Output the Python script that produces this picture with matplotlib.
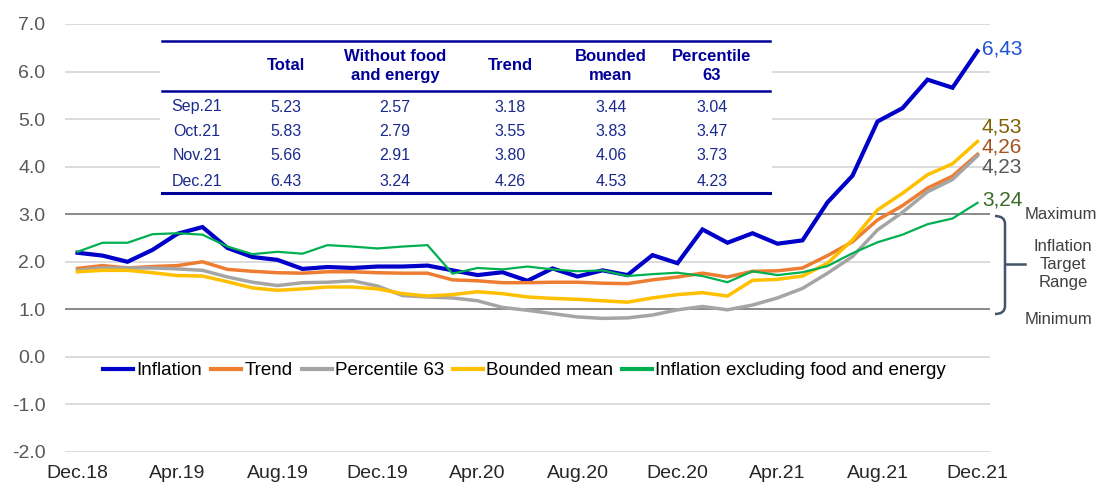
import numpy as np
import matplotlib
matplotlib.use("Agg")
import matplotlib.pyplot as plt
from matplotlib.lines import Line2D
from matplotlib.patches import Rectangle, PathPatch
from matplotlib.path import Path

plt.rcParams['font.family'] = ['Liberation Sans', 'DejaVu Sans']

# monthly data Dec.18 .. Dec.21
tick_labels = ["Dec.18", "Apr.19", "Aug.19", "Dec.19", "Apr.20",
               "Aug.20", "Dec.20", "Apr.21", "Aug.21", "Dec.21"]

inflation = [2.19, 2.13, 2.00, 2.25, 2.59, 2.73, 2.29, 2.10, 2.04, 1.85, 1.89, 1.87,
             1.90, 1.90, 1.92, 1.82, 1.72, 1.78, 1.60, 1.86, 1.69, 1.82, 1.72, 2.14,
             1.97, 2.68, 2.40, 2.60, 2.38, 2.45, 3.25, 3.81, 4.95, 5.23, 5.83, 5.66, 6.43]
trend = [1.86, 1.92, 1.87, 1.90, 1.92, 2.00, 1.84, 1.80, 1.77, 1.76, 1.79, 1.79,
         1.77, 1.76, 1.76, 1.62, 1.60, 1.56, 1.56, 1.57, 1.57, 1.55, 1.54, 1.62,
         1.68, 1.76, 1.68, 1.80, 1.81, 1.87, 2.13, 2.42, 2.88, 3.18, 3.55, 3.80, 4.26]
p63 = [1.82, 1.87, 1.87, 1.87, 1.85, 1.82, 1.68, 1.57, 1.50, 1.56, 1.57, 1.60,
       1.49, 1.29, 1.26, 1.24, 1.18, 1.04, 0.98, 0.91, 0.84, 0.81, 0.82, 0.88,
       0.99, 1.06, 0.99, 1.09, 1.24, 1.44, 1.76, 2.11, 2.67, 3.04, 3.47, 3.73, 4.23]
bounded = [1.79, 1.82, 1.82, 1.77, 1.71, 1.70, 1.58, 1.45, 1.40, 1.43, 1.47, 1.47,
           1.43, 1.33, 1.28, 1.31, 1.37, 1.33, 1.26, 1.23, 1.21, 1.18, 1.15, 1.24,
           1.31, 1.35, 1.28, 1.61, 1.63, 1.70, 1.97, 2.46, 3.09, 3.44, 3.83, 4.06, 4.53]
core = [2.21, 2.40, 2.40, 2.58, 2.60, 2.57, 2.32, 2.16, 2.21, 2.17, 2.35, 2.32,
        2.28, 2.32, 2.35, 1.75, 1.87, 1.84, 1.90, 1.84, 1.80, 1.82, 1.70, 1.74,
        1.77, 1.70, 1.57, 1.80, 1.72, 1.78, 1.91, 2.18, 2.41, 2.57, 2.79, 2.91, 3.24]

table_rows = ["Sep.21", "Oct.21", "Nov.21", "Dec.21"]
table_cols = ["Total", "Without food\nand energy", "Trend", "Bounded\nmean", "Percentile\n63"]

W, H = 1100, 487
fig = plt.figure(figsize=(11, 4.87), dpi=100)
ax = fig.add_axes([65 / W, 1 - 452 / H, 925 / W, 428 / H])

def fx(px):
    return px / W

def fy(py):
    return 1 - py / H

x = np.arange(len(inflation))
series = [
    (inflation, "Inflation", "#0000C8", 3.0, "#2052D6", 49),
    (trend, "Trend", "#ED7D31", 2.5, "#A5521E", 147),
    (p63, "Percentile 63", "#A5A5A5", 2.5, "#595959", 167),
    (bounded, "Bounded mean", "#FFC000", 2.5, "#806000", 127),
    (core, "Inflation excluding food and energy", "#00B050", 1.6, "#3A6B27", 200),
]
for k, (vals, name, col, lw, lcol, ly) in enumerate(series):
    ax.plot(x, vals, color=col, lw=lw, label=name, zorder=3 + k,
            solid_joinstyle='miter')
    fig.text(fx(982), fy(ly), f"{vals[-1]:.2f}".replace('.', ','), color=lcol,
             fontsize=15, ha='left', va='center')

ax.set_xlim(-0.5, len(x) - 0.5)
ax.set_ylim(-2, 7)
ax.set_yticks(np.arange(-2, 8, 1))
ax.set_yticklabels([f"{v:.1f}" for v in np.arange(-2, 8, 1)])
ax.set_xticks(np.arange(0, len(x), 4))
ax.set_xticklabels(tick_labels)
ax.tick_params(axis='y', length=0, pad=14, labelsize=14, labelcolor='#595959')
ax.tick_params(axis='x', length=0, pad=9, labelsize=14, labelcolor='#262626')
for s in ax.spines.values():
    s.set_visible(False)
for v in np.arange(-2, 8, 1):
    if v in (1, 3):
        ax.axhline(v, color='#808080', lw=1.3, zorder=1)
    else:
        ax.axhline(v, color='#D9D9D9', lw=1.3, zorder=1)

leg = ax.legend(loc='center', bbox_to_anchor=(0.497, 0.19), ncol=5, frameon=False,
                fontsize=13.5, handlelength=1.6, handletextpad=0.15, columnspacing=0.5,
                borderaxespad=0)
for h in leg.legend_handles:
    h.set_linewidth(3)

# table
ax.add_patch(Rectangle((fx(160), fy(196)), fx(772) - fx(160), fy(38) - fy(196),
                       transform=fig.transFigure, facecolor='white', edgecolor='none',
                       zorder=2))
navy = '#000099'
for py, lw in ((41, 1.8), (91, 1.8), (193, 2.2)):
    fig.add_artist(Line2D([fx(162), fx(770)], [fy(py), fy(py)], color=navy, lw=lw))
col_x = [286, 395, 510, 611, 712]
for cx, name in zip(col_x, table_cols):
    fig.text(fx(cx), fy(66), name, ha='center', va='center', fontsize=12,
             fontweight='bold', color=navy, linespacing=1.3)
table_series = [inflation, core, trend, bounded, p63]
row_y = [107, 131, 156, 181]
for r, (ry, rname) in enumerate(zip(row_y, table_rows)):
    fig.text(fx(197), fy(ry), rname, ha='center', va='center', fontsize=11.5,
             color='#1A2A8C')
    for cx, vals in zip(col_x, table_series):
        fig.text(fx(cx), fy(ry), f"{vals[len(vals) - 4 + r]:.2f}", ha='center',
                 va='center', fontsize=11.5, color='#1A2A8C')

# target range bracket
bc = '#44546A'
verts = [(995, 216), (1005, 216), (1005, 224), (1005, 306), (1005, 314), (995, 314)]
codes = [Path.MOVETO, Path.CURVE3, Path.CURVE3, Path.LINETO, Path.CURVE3, Path.CURVE3]
path = Path([(fx(a), fy(b)) for a, b in verts], codes)
fig.add_artist(PathPatch(path, facecolor='none', edgecolor=bc, lw=1.8,
                         transform=fig.transFigure))
fig.add_artist(Line2D([fx(1005), fx(1025)], [fy(264), fy(264)], color=bc, lw=1.8))
tc = '#404040'
fig.text(fx(1061), fy(215), "Maximum", ha='center', va='center', fontsize=12, color=tc)
fig.text(fx(1063), fy(264), "Inflation\nTarget\nRange", ha='center', va='center',
         fontsize=12, color=tc, linespacing=1.25)
fig.text(fx(1059), fy(320), "Minimum", ha='center', va='center', fontsize=12, color=tc)

fig.savefig("out.png", dpi=100)
